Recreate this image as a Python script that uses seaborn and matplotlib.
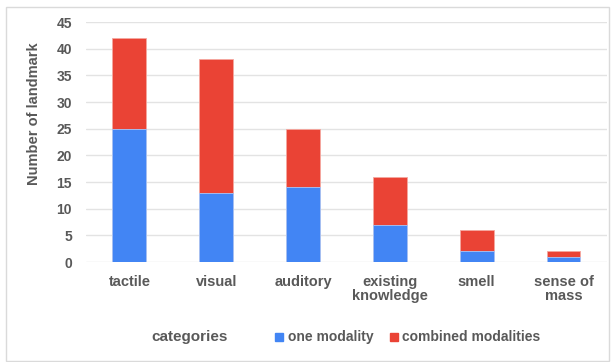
import matplotlib
matplotlib.use("Agg")
import matplotlib.pyplot as plt
import seaborn as sns
import pandas as pd
from matplotlib.lines import Line2D
from matplotlib.patches import Rectangle

categories = ["tactile", "visual", "auditory", "existing\nknowledge", "smell", "sense of\nmass"]
one_modality = [25, 13, 14, 7, 2, 1]
combined_modalities = [17, 25, 11, 9, 4, 1]
series_names = ["one modality", "combined modalities"]
y_ticks = [0, 5, 10, 15, 20, 25, 30, 35, 40, 45]

BLUE = "#4285F4"
RED = "#EA4335"
TEXT = "#595959"
GRID = "#E3E3E3"

df = pd.DataFrame({
    "category": categories,
    "one": one_modality,
    "combined": combined_modalities,
})
df["total"] = df["one"] + df["combined"]

sns.set_theme(style="white")
plt.rcParams["font.family"] = ["Liberation Sans", "DejaVu Sans"]

fig = plt.figure(figsize=(6.15, 3.62), dpi=100)
ax = fig.add_axes([0.1398, 0.2762, 0.847, 0.663])

# stacked bars: the full height in red, then the lower segment in blue over it
sns.barplot(data=df, x="category", y="total", color=RED, saturation=1,
            width=0.39, ax=ax, edgecolor="#F5A8A0", linewidth=0.6, zorder=3)
sns.barplot(data=df, x="category", y="one", color=BLUE, saturation=1,
            width=0.39, ax=ax, edgecolor="#A9C8FA", linewidth=0.6, zorder=4)

ax.set_xlim(-0.5, len(categories) - 0.5)
ax.set_ylim(0, 45)
ax.set_yticks(y_ticks)
ax.set_yticklabels([str(t) for t in y_ticks], fontsize=10, fontweight="bold", color=TEXT)
ax.set_xticks(range(len(categories)))
ax.set_xticklabels(categories, fontsize=10.5, fontweight="bold", color=TEXT,
                   linespacing=1.0)
ax.tick_params(axis="y", length=0, pad=10)
ax.tick_params(axis="x", length=0, pad=9)
ax.set_xlabel("")
ax.set_ylabel("")
ax.yaxis.grid(True, color=GRID, linewidth=1.0, zorder=0)
ax.set_axisbelow(True)
for s in ax.spines.values():
    s.set_visible(False)

fig.text(0.055, 0.686, "Number of landmark", rotation=90, ha="center", va="center",
         fontsize=10.5, fontweight="bold", color=TEXT)
fig.text(0.309, 0.068, "categories", ha="center", va="center",
         fontsize=11, fontweight="bold", color=TEXT)

handles = [
    Line2D([], [], marker="s", linestyle="none", markersize=6, color=BLUE),
    Line2D([], [], marker="s", linestyle="none", markersize=6, color=RED),
]
fig.legend(handles, series_names, loc="center left", bbox_to_anchor=(0.427, 0.068),
           ncol=2, frameon=False, handlelength=0.6, handletextpad=0.3,
           columnspacing=1.2, prop={"size": 10, "weight": "bold"}, labelcolor=TEXT)

fig.patches.append(Rectangle((6 / 615, 1 / 362), 1 - 12 / 615, 1 - 8 / 362,
                             transform=fig.transFigure, fill=False,
                             edgecolor="#DADADA", linewidth=1.0))

fig.savefig("out.png", dpi=100)
